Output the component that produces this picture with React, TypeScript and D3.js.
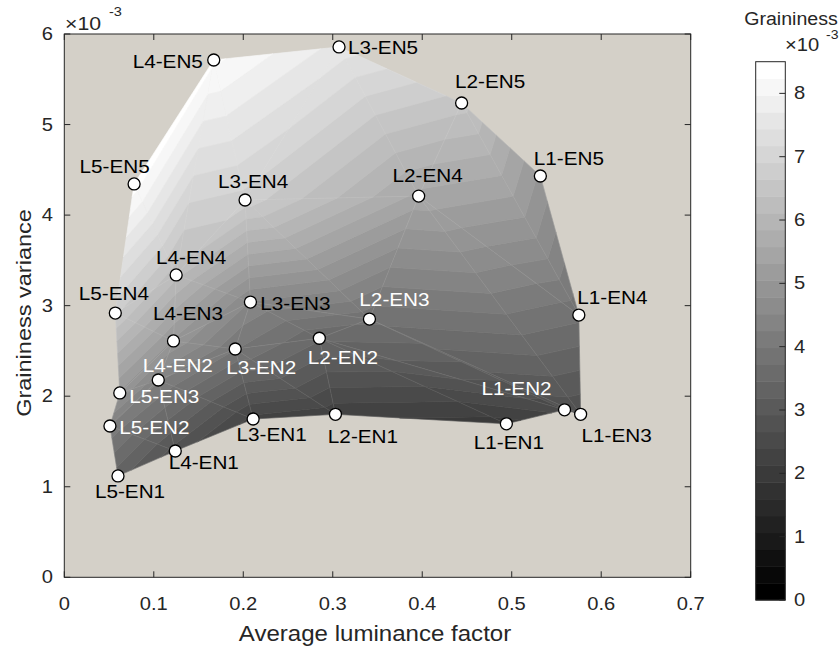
import React from "react";
import * as d3 from "d3";

// ---------- data ----------
const L_NAMES = ["L1", "L2", "L3", "L4", "L5"];
const EN_NAMES = ["EN1", "EN2", "EN3", "EN4", "EN5"];
// Average luminance factor, rows = L1..L5, cols = EN1..EN5
const LUM_L1 = [0.494, 0.559, 0.577, 0.575, 0.532];
const LUM_L2 = [0.303, 0.285, 0.341, 0.396, 0.444];
const LUM_L3 = [0.211, 0.191, 0.208, 0.202, 0.307];
const LUM_L4 = [0.124, 0.105, 0.122, 0.125, 0.167];
const LUM_L5 = [0.06, 0.051, 0.062, 0.057, 0.078];
// Graininess variance (x1e-3)
const VAR_L1 = [1.695, 1.85, 1.8, 2.896, 4.432];
const VAR_L2 = [1.8, 2.64, 2.852, 4.21, 5.238];
const VAR_L3 = [1.748, 2.521, 3.04, 4.167, 5.857];
const VAR_L4 = [1.395, 2.179, 2.61, 3.339, 5.713];
const VAR_L5 = [1.119, 1.671, 2.036, 2.918, 4.344];
// Graininess (x1e-3)
const GR_L1 = [2.0, 2.5, 2.7, 3.8, 5.0];
const GR_L2 = [2.2, 3.5, 3.8, 5.5, 6.5];
const GR_L3 = [2.3, 4.0, 4.5, 6.8, 7.6];
const GR_L4 = [2.8, 4.3, 5.0, 6.2, 8.3];
const GR_L5 = [3.3, 4.2, 5.0, 6.7, 8.4];

const X_TICKS = [0, 0.1, 0.2, 0.3, 0.4, 0.5, 0.6, 0.7];
const Y_TICKS = [0, 1, 2, 3, 4, 5, 6];
const CB_TICKS = [0, 1, 2, 3, 4, 5, 6, 7, 8];
const CB_MAX = 8.5;
const N_LEVELS = 32;

const LUM = [LUM_L1, LUM_L2, LUM_L3, LUM_L4, LUM_L5];
const VAR = [VAR_L1, VAR_L2, VAR_L3, VAR_L4, VAR_L5];
const GR = [GR_L1, GR_L2, GR_L3, GR_L4, GR_L5];

// ---------- label layout (offset from marker, text colour) ----------
const LABEL_LAYOUT: Record<string, [number, number, string]> = {
  "L1-EN1": [2.5, 19, "#000"],
  "L1-EN2": [-48, -21, "#fff"],
  "L1-EN3": [36, 21, "#000"],
  "L1-EN4": [33.5, -18, "#000"],
  "L1-EN5": [28.5, -18, "#000"],
  "L2-EN1": [27.5, 22, "#000"],
  "L2-EN2": [23.5, 19, "#fff"],
  "L2-EN3": [25, -20, "#fff"],
  "L2-EN4": [9, -21, "#000"],
  "L2-EN5": [28.5, -22, "#000"],
  "L3-EN1": [18.5, 15, "#000"],
  "L3-EN2": [26, 18, "#fff"],
  "L3-EN3": [45, 1, "#000"],
  "L3-EN4": [8, -19, "#000"],
  "L3-EN5": [44, 0, "#000"],
  "L4-EN1": [28.5, 11, "#000"],
  "L4-EN2": [19.5, -15, "#fff"],
  "L4-EN3": [14.5, -28, "#000"],
  "L4-EN4": [15, -18, "#000"],
  "L4-EN5": [-46, 1, "#000"],
  "L5-EN1": [12, 15, "#000"],
  "L5-EN2": [44.5, 1, "#fff"],
  "L5-EN3": [44.5, 3, "#fff"],
  "L5-EN4": [-1.5, -20, "#000"],
  "L5-EN5": [-19.5, -18, "#000"],
};

const FONT = "'Liberation Sans', Arial, Helvetica, sans-serif";
const AXIS_COLOR = "#262626";

type V = { x: number; y: number; v: number };

function clipPoly(poly: V[], g: (v: number) => number): V[] {
  const out: V[] = [];
  for (let i = 0; i < poly.length; i++) {
    const P = poly[i];
    const Q = poly[(i + 1) % poly.length];
    const gp = g(P.v);
    const gq = g(Q.v);
    if (gp >= 0) out.push(P);
    if (gp >= 0 !== gq >= 0) {
      const t = gp / (gp - gq);
      out.push({ x: P.x + t * (Q.x - P.x), y: P.y + t * (Q.y - P.y), v: P.v + t * (Q.v - P.v) });
    }
  }
  return out;
}

function SText({ x, y, sx = 1.12, size, anchor = "middle", fill = AXIS_COLOR, children, baseline = "central" }: any) {
  return (
    <g transform={`translate(${x},${y}) scale(${sx},1)`}>
      <text x={0} y={0} fontSize={size} fontFamily={FONT} textAnchor={anchor} dominantBaseline={baseline} fill={fill}>
        {children}
      </text>
    </g>
  );
}

export default function App() {
  const W = 839;
  const H = 650;
  const x = d3.scaleLinear().domain([0, 0.7]).range([64.3, 690.7]);
  const y = d3.scaleLinear().domain([0, 6]).range([577.3, 34]);
  const cb = d3.scaleLinear().domain([0, CB_MAX]).range([600, 61.7]);
  const h = CB_MAX / N_LEVELS;
  const grayOf = (k: number) => {
    const g = Math.round((255 * k) / (N_LEVELS - 1));
    return `rgb(${g},${g},${g})`;
  };

  const P: V[][] = LUM.map((row, i) => row.map((lx, j) => ({ x: x(lx), y: y(VAR[i][j]), v: GR[i][j] })));

  const bands: { d: string; fill: string }[] = [];
  const tris: V[][] = [];
  for (let i = 0; i < 4; i++) {
    for (let j = 0; j < 4; j++) {
      const A = P[i][j], B = P[i + 1][j], C = P[i + 1][j + 1], D = P[i][j + 1];
      tris.push([A, B, C]);
      tris.push([A, C, D]);
    }
  }
  tris.forEach((tri) => {
    const vmin = Math.min(...tri.map((p) => p.v));
    const vmax = Math.max(...tri.map((p) => p.v));
    for (let k = 0; k < N_LEVELS; k++) {
      const a = k * h;
      const b = (k + 1) * h;
      if (vmax < a || vmin > b) continue;
      let poly = clipPoly(tri, (v) => v - a);
      if (poly.length < 3) continue;
      poly = clipPoly(poly, (v) => b - v);
      if (poly.length < 3) continue;
      const d = "M" + poly.map((p) => `${p.x.toFixed(2)},${p.y.toFixed(2)}`).join("L") + "Z";
      bands.push({ d, fill: grayOf(k) });
    }
  });

  const line = d3.line<V>().x((p) => p.x).y((p) => p.y);
  const meshLines: string[] = [];
  for (let i = 0; i < 5; i++) meshLines.push(line(P[i]) as string);
  for (let j = 0; j < 5; j++) meshLines.push(line(P.map((r) => r[j])) as string);
  const diagLines: string[] = [];
  for (let i = 0; i < 4; i++) for (let j = 0; j < 4; j++) diagLines.push(line([P[i][j], P[i + 1][j + 1]]) as string);

  const points: { name: string; p: V }[] = [];
  L_NAMES.forEach((ln, i) => EN_NAMES.forEach((en, j) => points.push({ name: `${ln}-${en}`, p: P[i][j] })));

  const cbLevels = d3.range(N_LEVELS);
  const [x0, x1] = x.range();
  const [y0, y1] = y.range();
  const cbL = 755.7, cbR = 785.3;

  return (
    <svg width={W} height={H} style={{ position: "absolute", left: 0, top: 0, background: "#fff" }}>
      {/* plot background */}
      <rect x={x0} y={y1} width={x1 - x0} height={y0 - y1} fill="#d4d0c8" />
      {/* surface bands */}
      <g>
        {bands.map((b, i) => (
          <path key={i} d={b.d} fill={b.fill} stroke={b.fill} strokeWidth={0.6} strokeLinejoin="round" />
        ))}
      </g>
      {/* faint mesh */}
      <g fill="none" stroke="#fff" strokeOpacity={0.13} strokeWidth={0.7}>
        {meshLines.map((d, i) => (
          <path key={i} d={d} />
        ))}
        {diagLines.map((d, i) => (
          <path key={"d" + i} d={d} strokeOpacity={0.1} />
        ))}
      </g>
      {/* axes box and ticks */}
      <rect x={x0} y={y1} width={x1 - x0} height={y0 - y1} fill="none" stroke={AXIS_COLOR} strokeWidth={1} />
      <g stroke={AXIS_COLOR} strokeWidth={1}>
        {X_TICKS.map((t) => (
          <g key={"xt" + t}>
            <line x1={x(t)} x2={x(t)} y1={y0} y2={y0 - 6} />
            <line x1={x(t)} x2={x(t)} y1={y1} y2={y1 + 6} />
          </g>
        ))}
        {Y_TICKS.map((t) => (
          <g key={"yt" + t}>
            <line x1={x0} x2={x0 + 6} y1={y(t)} y2={y(t)} />
            <line x1={x1} x2={x1 - 6} y1={y(t)} y2={y(t)} />
          </g>
        ))}
      </g>
      {X_TICKS.map((t) => (
        <SText key={"xl" + t} x={x(t)} y={604} size={18}>
          {String(t)}
        </SText>
      ))}
      {Y_TICKS.map((t) => (
        <SText key={"yl" + t} x={53} y={y(t)} size={18} anchor="end">
          {String(t)}
        </SText>
      ))}
      {/* exponent */}
      <SText x={65} y={23} size={19} anchor="start">
        {"\u00d710"}
      </SText>
      <SText x={109} y={12} size={13} anchor="start">
        -3
      </SText>
      {/* axis labels */}
      <SText x={375} y={633} size={21.5}>
        Average luminance factor
      </SText>
      <g transform="translate(24,313) rotate(-90)">
        <SText x={0} y={0} size={21}>
          Graininess variance
        </SText>
      </g>
      {/* markers */}
      {points.map(({ name, p }) => (
        <circle key={name} cx={p.x} cy={p.y} r={6} fill="#fff" stroke="#000" strokeWidth={1.3} />
      ))}
      {points.map(({ name, p }) => {
        const [dx, dy, c] = LABEL_LAYOUT[name];
        return (
          <SText key={"lb" + name} x={p.x + dx} y={p.y + dy} size={18.5} fill={c}>
            {name}
          </SText>
        );
      })}
      {/* colorbar */}
      <g>
        {cbLevels.map((k) => (
          <rect key={k} x={cbL} y={cb((k + 1) * h)} width={cbR - cbL} height={cb(k * h) - cb((k + 1) * h) + 0.5} fill={grayOf(k)} />
        ))}
        <rect x={cbL} y={cb(CB_MAX)} width={cbR - cbL} height={cb(0) - cb(CB_MAX)} fill="none" stroke={AXIS_COLOR} strokeWidth={1} />
        {CB_TICKS.map((t) => (
          <g key={"cb" + t}>
            <line x1={cbR} x2={cbR - 6} y1={cb(t)} y2={cb(t)} stroke={AXIS_COLOR} />
            <SText x={794} y={cb(t)} size={18} anchor="start">
              {String(t)}
            </SText>
          </g>
        ))}
        <SText x={785} y={45} size={18} anchor="start">
          {"\u00d710"}
        </SText>
        <SText x={826} y={35} size={12.5} anchor="start">
          -3
        </SText>
        <SText x={791} y={19} size={17.5}>
          Graininess
        </SText>
      </g>
    </svg>
  );
}
